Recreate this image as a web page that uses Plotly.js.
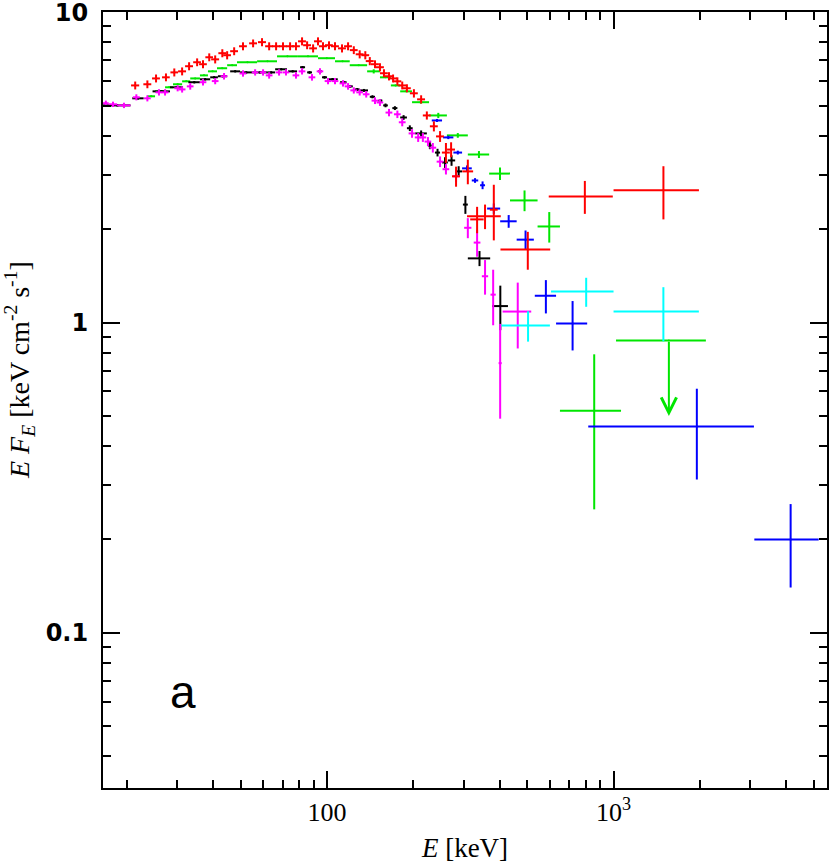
<!DOCTYPE html>
<html>
<head>
<meta charset="utf-8">
<script src="https://cdn.plot.ly/plotly-3.0.1.min.js"></script>
<style>
  body { margin: 0; background: #fff; }
  #myDiv { width: 830px; height: 867px; }
</style>
</head>
<body>
<div id="myDiv"></div>
<script>
// spectra: bin centre E [keV], half width, E F_E, 1-sigma error
var blackE = [18.55,21.9,26.45,29.85,34.4,37.55,40.35,43.2,47.8,52.25,58.3,63.85,69.2,75.85,82.15,86.9,94.5,98,104.5,114,120.5,127.5,134.5,144,153.5,160,172.5,185,194.5,213,228.5,243,258,272,288,304,340.5,402.5];
var blackDE = [2.05,1.0,1.85,1.55,1.6,1.55,1.25,1.6,1.9,2.55,3.5,2.05,3.3,2.75,1.65,1.7,1.5,2,4.5,3,2.5,2.5,4.5,3,2.5,3,3.5,5,4.5,10,3.5,5,6,8,8,6,30.5,25.5];
var blackF = [5.01,5.28,5.56,5.73,5.95,6.08,6.17,6.22,6.45,6.40,6.40,6.40,6.55,6.45,6.65,6.40,6.45,6.17,6.08,5.95,5.77,5.64,5.60,5.34,5.19,5.01,4.91,4.58,4.23,4.07,3.72,3.53,3.28,3.33,3.07,2.40,1.61,1.13];
var blackDF = [0.04,0.05,0.05,0.05,0.05,0.05,0.05,0.05,0.05,0.05,0.05,0.05,0.05,0.05,0.06,0.06,0.06,0.06,0.06,0.06,0.06,0.06,0.06,0.06,0.06,0.07,0.07,0.08,0.09,0.09,0.1,0.1,0.13,0.13,0.12,0.16,0.09,0.185];

var redE = [21.4,23.6,25.3,27.4,29.3,31.2,33.0,35.2,36.9,38.8,40.7,43.1,44.8,47.4,50.9,55.2,59.3,62.8,66.4,70.2,74.3,77.9,81.8,85.2,89.4,93.0,96.8,101.6,106.6,112.8,118.4,124,130,136,141,147,153,158,164.5,170,176,183,190,201,213,223,236,248,260,271,282,310,334,356,382,502,794,1493];
var redDE = [0.7,0.75,0.8,0.85,0.9,1.0,1.05,1.1,1.15,1.2,1.3,1.35,1.4,1.5,1.6,1.75,1.9,2.0,2.1,2.2,2.35,2.5,2.6,2.7,2.8,2.95,3.1,3.2,3.4,3.6,3.75,3.9,4.1,4.3,4.5,4.7,4.9,5.0,5.2,5.4,5.6,5.8,6.0,6.4,6.8,7.1,7.5,7.9,8.3,8.6,9,13.5,18,48,12,99,200,493];
var redF = [5.81,5.86,6.12,6.17,6.40,6.45,6.70,6.90,6.80,7.16,7.05,7.38,7.27,7.49,7.77,7.94,8.01,7.77,7.77,7.77,7.77,7.77,8.06,7.83,7.65,8.06,7.77,7.83,7.77,7.65,7.77,7.55,7.32,7.27,6.96,6.80,6.65,6.36,6.22,6.12,5.99,5.81,5.69,5.48,5.24,4.65,4.29,3.98,3.53,3.61,2.96,3.07,2.15,2.20,2.31,1.72,2.55,2.67];
var redDF = [0.17,0.17,0.18,0.18,0.19,0.19,0.2,0.2,0.2,0.21,0.21,0.22,0.22,0.22,0.23,0.23,0.24,0.23,0.23,0.23,0.23,0.23,0.24,0.23,0.23,0.24,0.23,0.23,0.23,0.23,0.23,0.22,0.22,0.22,0.21,0.2,0.2,0.19,0.19,0.18,0.18,0.17,0.17,0.17,0.16,0.14,0.16,0.16,0.26,0.2,0.22,0.28,0.21,0.2,0.47,0.24,0.31,0.52];

var greenE = [24.35,26.15,28.1,30.1,32.25,34.65,37.2,39.85,43.05,46.65,52.75,61.95,72.75,85.8,99.8,113.3,129,145.5,160,173.5,189,212.5,244.5,286,339,401.5,489,596.5,856];
var greenDE = [0.75,1.05,0.9,1.1,1.05,1.35,1.2,1.45,1.75,1.85,4.25,4.95,5.85,7.2,6.8,6.7,9,7.5,7,6.5,9,14.5,17.5,24,29,33.5,54,53.5,206];
var greenF = [5.36,5.56,5.73,5.86,5.99,6.12,6.26,6.45,6.60,6.75,6.90,6.95,7.21,7.21,7.11,6.95,6.75,6.45,6.17,5.81,5.56,5.13,4.65,4.01,3.48,3.02,2.475,2.04,0.52];
var greenDF = [0.03,0.03,0.03,0.03,0.03,0.03,0.03,0.03,0.03,0.03,0.03,0.03,0.03,0.03,0.03,0.03,0.03,0.1,0.03,0.03,0.03,0.05,0.09,0.07,0.09,0.14,0.19,0.23,0.27];
// green upper limit: bin, limit value, arrow end
var greenUlE = [1560];
var greenUlDE = [540];
var greenUlF = [0.875];
var greenUlTo = [0.5];

var blueE = [242,265,286,308,328.5,349,382,430.5,493,580.5,719.5,1953,4150];
var blueDE = [10,11,10,12,8.5,7,20,28.5,34,49.5,89.5,1137,1050];
var blueF = [4.48,3.95,3.53,3.14,2.87,2.77,2.33,2.12,1.85,1.22,0.993,0.462,0.200];
var blueDF = [0.05,0.05,0.05,0.07,0.05,0.08,0.09,0.1,0.13,0.15,0.18,0.15,0.06];

var cyanE = [503,802.5,1492.5];
var cyanDE = [96.5,197.5,492.5];
var cyanF = [0.978,1.259,1.085];
var cyanDF = [0.11,0.135,0.215];

var magE = [16.9,17.9,19.55,21.6,23.6,25.9,27.2,30.1,31.2,33.3,36.9,40.7,43.7,50.9,56.1,59.8,62.8,68.0,71.9,77.9,81.8,88.6,94.5,100.8,106.6,113.7,118.4,124,130,137,147,153,164.5,176,183,198,208,216,225,234,248,260,282,310,334,356,380,402,463];
var magDE = [0.4,0.6,1.05,0.6,0.65,0.7,0.75,0.8,0.85,0.9,1.0,1.1,1.2,1.4,1.5,1.6,1.7,1.8,1.9,2.1,2.2,2.4,2.5,2.7,2.9,3.1,3.2,3.4,3.5,3.7,4.0,4.1,4.5,4.8,5,5.4,5.6,5.8,6,6.3,6.7,7,7.6,9,9,9,8,5,53];
var magF = [5.09,5.05,5.01,5.32,5.28,5.52,5.52,5.69,5.64,5.77,5.95,6.0,6.22,6.35,6.40,6.40,6.26,6.40,6.40,6.26,6.45,6.17,6.45,6.0,6.0,5.90,5.77,5.60,5.52,5.44,5.19,5.12,4.75,4.69,4.42,4.07,3.95,3.95,3.83,3.66,3.30,3.12,2.96,2.02,1.81,1.41,1.23,0.74,1.085];
var magDF = [0.1,0.1,0.1,0.12,0.12,0.13,0.13,0.13,0.13,0.14,0.14,0.14,0.15,0.15,0.15,0.15,0.15,0.15,0.15,0.15,0.15,0.15,0.15,0.14,0.14,0.14,0.14,0.13,0.13,0.13,0.13,0.13,0.13,0.13,0.13,0.13,0.13,0.13,0.13,0.13,0.13,0.12,0.12,0.15,0.18,0.18,0.25,0.25,0.26];

var xMajor = [100, 1000];
var xMajorText = ['100', '10<sup>3</sup>'];
var xMinor = [20,30,40,50,60,70,80,90,200,300,400,500,600,700,800,900,2000,3000,4000,5000];
var yMajor = [0.1, 1, 10];
var yMajorText = ['0.1', '1', '10'];
var yMinor = [0.04,0.05,0.06,0.07,0.08,0.09,0.2,0.3,0.4,0.5,0.6,0.7,0.8,0.9,2,3,4,5,6,7,8,9];

function spectrum(e, de, f, df, color) {
    return {
        x: e, y: f,
        type: 'scatter',
        mode: 'markers',
        marker: {size: 2, color: color},
        error_x: {type: 'data', array: de, color: color, thickness: 2, width: 0},
        error_y: {type: 'data', array: df, color: color, thickness: 2, width: 0},
        hoverinfo: 'skip'
    };
}

var green = '#00e600';
var ul = {
    x: greenUlE, y: greenUlF,
    type: 'scatter', mode: 'markers',
    marker: {size: 2, color: green},
    error_x: {type: 'data', array: greenUlDE, color: green, thickness: 2, width: 0},
    hoverinfo: 'skip'
};

// invisible point on the top / right axes so their ticks get drawn
var frame = {x: [100], y: [1], type: 'scatter', mode: 'markers', marker: {opacity: 0}, xaxis: 'x2', yaxis: 'y2', hoverinfo: 'skip'};

var data = [
    spectrum(greenE, greenDE, greenF, greenDF, green),
    ul,
    spectrum(blackE, blackDE, blackF, blackDF, '#000000'),
    spectrum(magE, magDE, magF, magDF, '#ff00ff'),
    spectrum(blueE, blueDE, blueF, blueDF, '#0000ff'),
    spectrum(cyanE, cyanDE, cyanF, cyanDF, '#00ffff'),
    spectrum(redE, redDE, redF, redDF, '#ff0000'),
    frame
];

var serif = 'Liberation Serif, serif';
var xRange = [1.218, 3.745];
var yRange = [-1.5, 1.0008];

function tickAxis(extra) {
    return Object.assign({
        type: 'log',
        showline: true, linecolor: 'black', linewidth: 2,
        mirror: 'allticks',
        ticks: 'inside', ticklen: 17, tickwidth: 2, tickcolor: 'black',
        tickmode: 'array',
        showgrid: false, zeroline: false
    }, extra);
}

var layout = {
    width: 830, height: 867,
    margin: {l: 103, r: 3, t: 12, b: 79},
    paper_bgcolor: 'white', plot_bgcolor: 'white',
    showlegend: false,
    hovermode: false,
    xaxis: tickAxis({
        range: xRange,
        tickvals: xMajor, ticktext: xMajorText,
        tickfont: {family: serif, size: 26, color: 'black'},
        ticklabelstandoff: 0,
        minor: {tickmode: 'array', tickvals: xMinor, ticks: 'inside', ticklen: 8, tickwidth: 2, tickcolor: 'black', showgrid: false},
        title: {text: '<i>E</i> [keV]', font: {family: serif, size: 27, color: 'black'}, standoff: 12}
    }),
    xaxis2: tickAxis({
        range: xRange, overlaying: 'x', side: 'top', anchor: 'y2',
        tickvals: xMajor, showticklabels: false,
        minor: {tickmode: 'array', tickvals: xMinor, ticks: 'inside', ticklen: 8, tickwidth: 2, tickcolor: 'black', showgrid: false}
    }),
    yaxis: tickAxis({
        range: yRange,
        tickvals: yMajor, ticktext: yMajorText,
        tickfont: {family: 'DejaVu Sans, sans-serif', size: 24, color: 'black', weight: 'bold'},
        ticklabelstandoff: 8,
        ticklabeloverflow: 'allow',
        minor: {tickmode: 'array', tickvals: yMinor, ticks: 'inside', ticklen: 8, tickwidth: 2, tickcolor: 'black', showgrid: false}
    }),
    yaxis2: tickAxis({
        range: yRange, overlaying: 'y', side: 'right', anchor: 'x2',
        tickvals: yMajor, showticklabels: false,
        minor: {tickmode: 'array', tickvals: yMinor, ticks: 'inside', ticklen: 8, tickwidth: 2, tickcolor: 'black', showgrid: false}
    }),
    annotations: [
        {
            // y-axis title, placed as in the reference (above the plot's middle)
            xref: 'paper', yref: 'paper', x: -0.1146, y: 0.5387,
            xanchor: 'center', yanchor: 'middle', textangle: -90,
            text: '<i>E F</i><sub><i>E</i></sub> [keV cm<sup>-2</sup> s<sup>-1</sup>]',
            showarrow: false,
            font: {family: serif, size: 28, color: 'black'}
        },
        {
            xref: 'paper', yref: 'paper', x: 0.1105, y: 0.1237,
            xanchor: 'center', yanchor: 'middle',
            text: 'a', showarrow: false,
            font: {family: 'Liberation Sans, sans-serif', size: 46, color: 'black'}
        },
        {
            xref: 'x', yref: 'y', axref: 'x', ayref: 'y',
            x: Math.log10(greenUlE[0]), y: Math.log10(greenUlTo[0]),
            ax: Math.log10(greenUlE[0]), ay: Math.log10(greenUlF[0]),
            text: '', showarrow: true,
            arrowhead: 5, arrowsize: 1.5, arrowwidth: 2, arrowcolor: green
        }
    ]
};

Plotly.newPlot('myDiv', data, layout, {staticPlot: true, displayModeBar: false});
</script>
</body>
</html>
